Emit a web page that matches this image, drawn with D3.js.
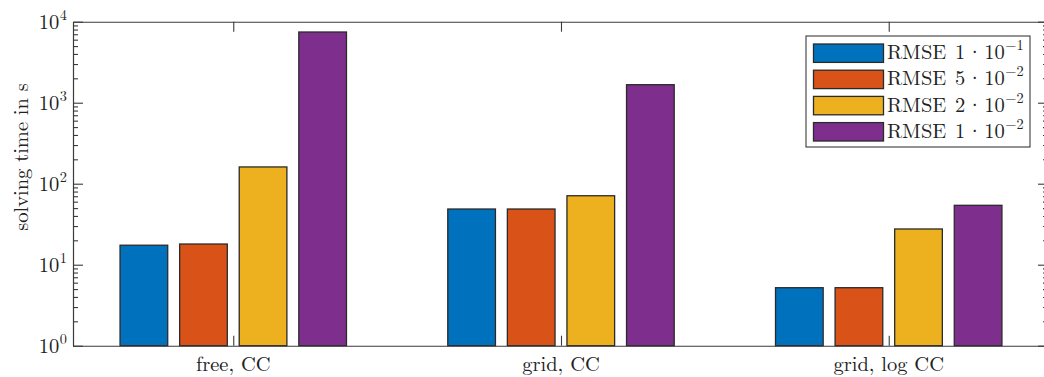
<!DOCTYPE html>
<html>
<head>
<meta charset="utf-8">
<script src="https://cdn.jsdelivr.net/npm/d3@7"></script>
<style>
  html, body { margin: 0; padding: 0; background: #fff; }
  svg { display: block; }
</style>
</head>
<body>
<svg id="chart" width="1044" height="377"></svg>
<script>
// ---- data ----
const categories = ["free, CC", "grid, CC", "grid, log CC"];
const seriesMantissa = ["1", "5", "2", "1"];
const seriesExponent = ["\u22121", "\u22122", "\u22122", "\u22122"];
const rmse1e1 = [17.4, 48.7, 5.2];
const rmse5e2 = [18.0, 48.7, 5.2];
const rmse2e2 = [161, 71, 27.6];
const rmse1e2 = [7460, 1668, 54.1];
const seriesValues = [rmse1e1, rmse5e2, rmse2e2, rmse1e2];
const seriesColors = ["#0072BD", "#D95319", "#EDB120", "#7E2F8E"];
const yTickExponents = [0, 1, 2, 3, 4];
const yLabel = "solving time in s";

// ---- layout ----
const FONT = "'Latin Modern Roman', 'CMU Serif', 'Liberation Serif', 'DejaVu Serif', serif";
const svg = d3.select("#chart").attr("font-family", FONT);
const plotL = 73, plotR = 1048, plotT = 21.7, plotB = 345.7;
const x = d3.scaleLinear().domain([0.511, 3.486]).range([plotL, plotR]);
const y = d3.scaleLog().domain([1, 1e4]).range([plotB, plotT]);
const nSeries = seriesValues.length;
const groupWidth = Math.min(0.8, nSeries / (nSeries + 1.5));
const step = groupWidth / nSeries;
const barW = 0.8 * step;
const axisColor = "#3a3a3a";
const textColor = "#222";
const fs = 20.5, fsSup = 14.3;

// bars
seriesValues.forEach((vals, s) => {
  svg.append("g").selectAll("rect")
    .data(vals)
    .join("rect")
    .attr("x", (d, i) => x(i + 1 + (s - (nSeries - 1) / 2) * step - barW / 2))
    .attr("width", (d, i) => x(barW) - x(0))
    .attr("y", d => y(d))
    .attr("height", d => y(1) - y(d))
    .attr("fill", seriesColors[s])
    .attr("stroke", "#2a2a2a")
    .attr("stroke-width", 1.3);
});

// axes
const majors = yTickExponents.map(e => Math.pow(10, e));
const minors = [];
for (let e = 0; e < 4; e++) for (let m = 2; m <= 9; m++) minors.push(m * Math.pow(10, e));

function styleAxis(g) {
  g.selectAll("path,line").attr("stroke", axisColor).attr("stroke-width", 1.1);
  g.selectAll("text").remove();
}
svg.append("g").attr("transform", `translate(${plotL},0)`)
  .call(d3.axisLeft(y).tickValues(majors).tickSize(-10).tickSizeOuter(0)).call(styleAxis);
svg.append("g").attr("transform", `translate(${plotL},0)`)
  .call(d3.axisLeft(y).tickValues(minors).tickSize(-5).tickSizeOuter(0)).call(styleAxis);
svg.append("g").attr("transform", `translate(${plotR},0)`)
  .call(d3.axisRight(y).tickValues(majors).tickSize(-10).tickSizeOuter(0)).call(styleAxis);
svg.append("g").attr("transform", `translate(${plotR},0)`)
  .call(d3.axisRight(y).tickValues(minors).tickSize(-5).tickSizeOuter(0)).call(styleAxis);
svg.append("g").attr("transform", `translate(0,${plotT})`)
  .call(d3.axisTop(x).tickValues([1, 2, 3]).tickSize(-10).tickSizeOuter(0)).call(styleAxis);
svg.append("g").attr("transform", `translate(0,${plotB})`)
  .call(d3.axisBottom(x).tickValues([1, 2, 3]).tickSize(-10).tickSizeOuter(0)).call(styleAxis);

// y tick labels 10^k
const yl = svg.append("g");
yTickExponents.forEach(e => {
  const t = yl.append("text")
    .attr("x", 67).attr("y", y(Math.pow(10, e)) + 7)
    .attr("text-anchor", "end").attr("fill", textColor)
    .attr("font-size", fs);
  t.append("tspan").text("10");
  t.append("tspan").attr("font-size", fsSup).attr("dy", -9).attr("dx", 0.5).text(String(e));
});

// x tick labels
svg.append("g").selectAll("text")
  .data(categories)
  .join("text")
  .attr("x", (d, i) => x(i + 1))
  .attr("y", 371)
  .attr("text-anchor", "middle").attr("fill", textColor)
  .attr("font-size", fs)
  .text(d => d);

// y label
svg.append("text")
  .attr("transform", "translate(27.5,157) rotate(-90)")
  .attr("text-anchor", "middle").attr("fill", textColor)
  .attr("font-size", fs)
  .text(yLabel);

// legend
const lg = svg.append("g");
lg.append("rect").attr("x", 806).attr("y", 36).attr("width", 224).attr("height", 111)
  .attr("fill", "#fff").attr("stroke", axisColor).attr("stroke-width", 1.1);
seriesColors.forEach((c, i) => {
  const cy = 53.2 + i * 26.2;
  lg.append("rect").attr("x", 813.5).attr("y", cy - 9.2).attr("width", 70).attr("height", 18.4)
    .attr("fill", c).attr("stroke", "#2a2a2a").attr("stroke-width", 1.3);
  const t = lg.append("text").attr("x", 887).attr("y", cy + 6).attr("fill", textColor)
    .attr("font-size", fs);
  t.append("tspan").text("RMSE ");
  t.append("tspan").attr("dx", 2).text(seriesMantissa[i]);
  t.append("tspan").attr("dx", 1.5).text("\u00b7");
  t.append("tspan").attr("dx", 1.5).text("10");
  t.append("tspan").attr("font-size", fsSup).attr("dy", -9).attr("dx", 0.5).text(seriesExponent[i]);
});
</script>
</body>
</html>
